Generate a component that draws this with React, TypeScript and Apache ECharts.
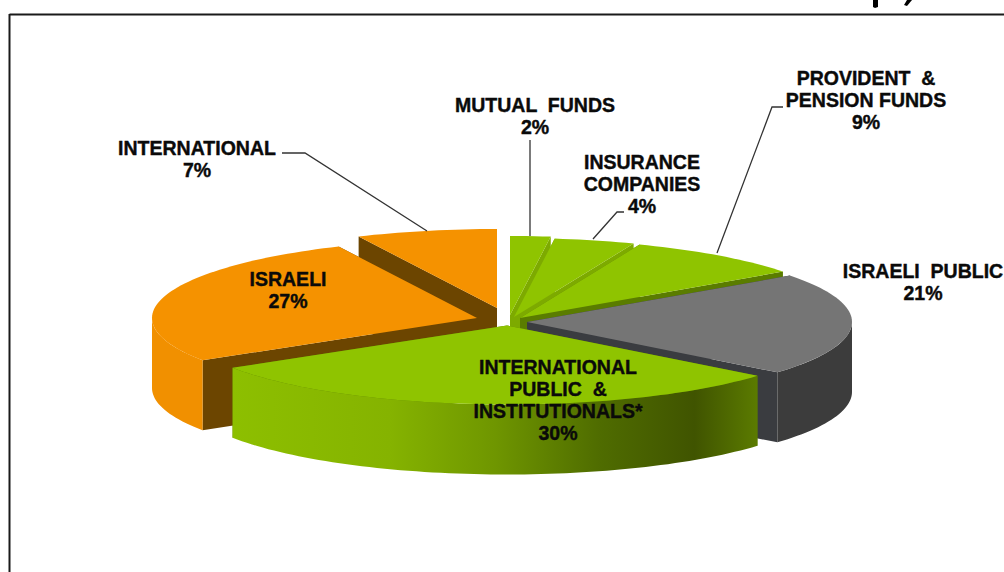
import React, { useEffect, useRef } from "react";
import * as echarts from "echarts";

const sliceNames = ["MUTUAL FUNDS", "INSURANCE COMPANIES", "PROVIDENT & PENSION FUNDS", "ISRAELI PUBLIC", "INTERNATIONAL PUBLIC & INSTITUTIONALS*", "ISRAELI", "INTERNATIONAL"];
const sliceValues = [2, 4, 9, 21, 30, 27, 7];
const labelLines = [
  ["MUTUAL  FUNDS"],
  ["INSURANCE", "COMPANIES"],
  ["PROVIDENT  &", "PENSION FUNDS"],
  ["ISRAELI  PUBLIC"],
  ["INTERNATIONAL", "PUBLIC  &", "INSTITUTIONALS*"],
  ["ISRAELI"],
  ["INTERNATIONAL"],
];

// Style and layout (not data)
const RX = 325, RY = 79, DEPTH = 70;
const apexX = [510, 514, 520, 527, 507, 477, 497];
const apexY = [315, 317, 318, 322, 325.5, 318, 308];
const drawOrder = [1, 2, 3, 4, 6, 5, 0]; // per slice, z2 rank
const topFill = ["#8FC400", "#8FC400", "#8FC400", "#757575", "#8FC400", "#F59200", "#F59200"];
const cutFill = ["#7DAA00", "#7DAA00", "#5A7C00", "#3A3C40", "#5A7C00", "#6C4500", "#6C4500"];
const labelX = [535, 642, 866, 923, 558, 288, 197];
const labelTop = [94, 151, 67, 260, 356, 268, 137];
const leaders = [
  [[530, 140], [530, 236]],
  [[593, 239], [617, 212], [624, 212]],
  [[717, 253], [772, 107], [783, 107]],
  [[282, 153], [305, 153], [427, 231]],
];

const total = sliceValues.reduce((a, b) => a + b, 0);
const ang = (t: number) => (t * Math.PI) / 180;

function wallFill(i: number) {
  if (i === 4) {
    return new echarts.graphic.LinearGradient(0, 0, 1, 0, [
      { offset: 0, color: "#8DBF00" },
      { offset: 0.3, color: "#85B300" },
      { offset: 0.5, color: "#6F9600" },
      { offset: 0.7, color: "#4F6C00" },
      { offset: 0.88, color: "#405400" },
      { offset: 1, color: "#5B7B00" },
    ]);
  }
  if (i === 5) return "#F19000";
  return "#3C3C3C";
}

function renderSlice(params: any, api: any) {
  const i = params.dataIndex;
  let before = 0;
  for (let k = 0; k < i; k++) before += sliceValues[k];
  const t1 = (before / total) * 360;
  const t2 = ((before + api.value(0)) / total) * 360;
  const cx = apexX[i], cy = apexY[i];
  const pt = (t: number, dy = 0) => [cx + RX * Math.sin(ang(t)), cy - RY * Math.cos(ang(t)) + dy];
  const arc = (a: number, b: number, dy = 0) => {
    const n = Math.max(2, Math.ceil(Math.abs(b - a) / 1.5));
    const out: number[][] = [];
    for (let k = 0; k <= n; k++) out.push(pt(a + ((b - a) * k) / n, dy));
    return out;
  };
  const z = drawOrder[i] * 10;
  const children: any[] = [];
  const face = (t: number) => ({
    type: "polygon",
    z2: z,
    shape: { points: [[cx, cy], pt(t), pt(t, DEPTH), [cx, cy + DEPTH]] },
    style: { fill: cutFill[i] },
  });
  children.push(face(t1), face(t2));
  const w1 = Math.max(t1, 90), w2 = Math.min(t2, 270);
  if (w2 > w1) {
    children.push({
      type: "polygon",
      z2: z + 1,
      shape: { points: [...arc(w1, w2), ...arc(w2, w1, DEPTH)] },
      style: { fill: wallFill(i) },
    });
  }
  children.push({
    type: "polygon",
    z2: z + 2,
    shape: { points: [[cx, cy], ...arc(t1, t2)] },
    style: { fill: topFill[i] },
  });
  return { type: "group", children };
}

const font = 'bold 19.5px "Liberation Sans", Arial, sans-serif';

function labelElements() {
  return sliceNames.map((_, i) => ({
    type: "text",
    z: 20,
    x: labelX[i],
    y: labelTop[i],
    style: {
      text: [...labelLines[i], `${sliceValues[i]}%`].join("\n"),
      font,
      lineHeight: 22,
      fill: "#0A0A0A",
      stroke: "#0A0A0A",
      lineWidth: 0.4,
      align: "center",
      verticalAlign: "top",
    },
  }));
}

export default function App() {
  const ref = useRef<HTMLDivElement>(null);
  useEffect(() => {
    document.body.style.margin = "0";
    const chart = echarts.init(ref.current!, undefined, { renderer: "svg" });
    chart.setOption({
      animation: false,
      backgroundColor: "#FFFFFF",
      graphic: {
        elements: [
          { type: "line", z: 1, shape: { x1: 9.5, y1: 14.5, x2: 1004, y2: 14.5 }, style: { stroke: "#1A1A1A", lineWidth: 2 } },
          { type: "line", z: 1, shape: { x1: 9.5, y1: 14, x2: 9.5, y2: 572 }, style: { stroke: "#1A1A1A", lineWidth: 2 } },
          { type: "polygon", z: 1, shape: { points: [[873, 0], [878, 0], [878, 7], [875, 8], [873, 7]] }, style: { fill: "#000" } },
          { type: "polygon", z: 1, shape: { points: [[907, 0], [912, 0], [907, 6], [904, 5]] }, style: { fill: "#000" } },
          ...leaders.map((pts) => ({
            type: "polyline",
            z: 15,
            shape: { points: pts },
            style: { stroke: "#333", lineWidth: 1.3, fill: "none" },
          })),
          ...labelElements(),
        ],
      },
      series: [
        {
          type: "custom",
          coordinateSystem: "none",
          clip: false,
          silent: true,
          renderItem: renderSlice,
          data: sliceValues.map((v, i) => ({ name: sliceNames[i], value: [v] })),
        },
      ],
    });
    return () => chart.dispose();
  }, []);
  return <div ref={ref} style={{ width: 1004, height: 572, overflow: "hidden" }} />;
}
